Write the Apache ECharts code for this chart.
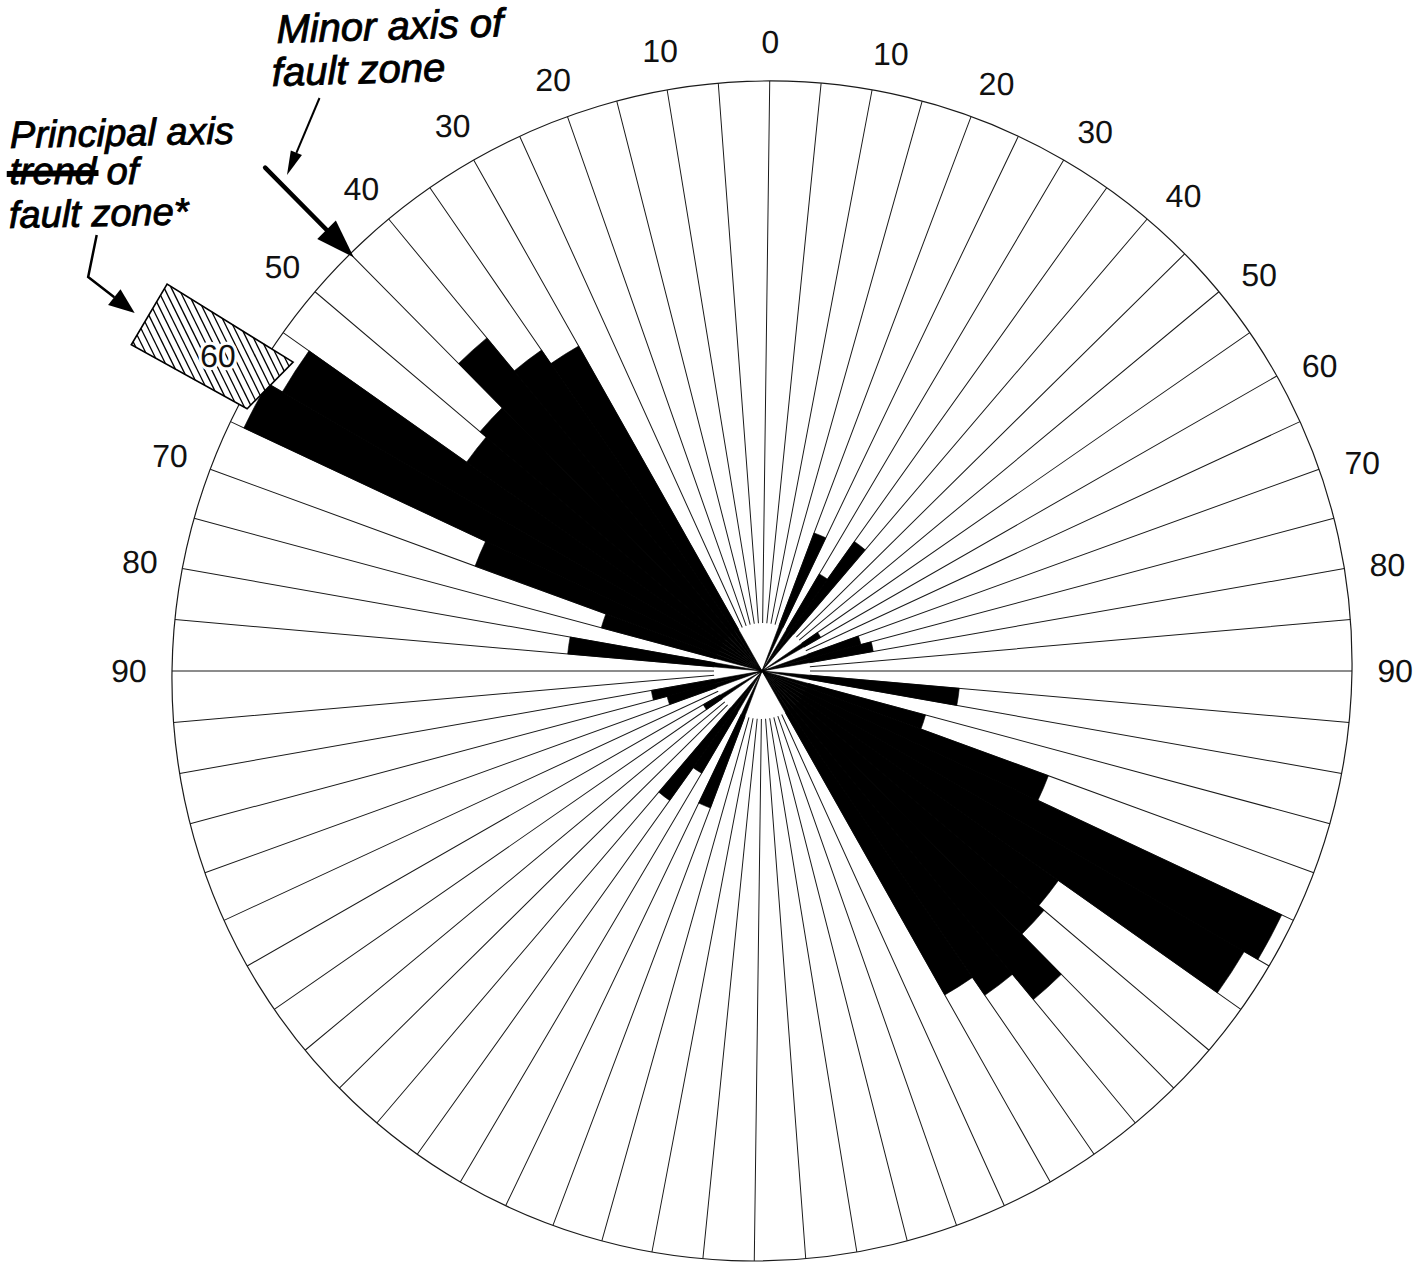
<!DOCTYPE html>
<html>
<head>
<meta charset="utf-8">
<title>Rose diagram of fault strikes</title>
<script src="https://cdn.jsdelivr.net/npm/echarts@6/dist/echarts.min.js"></script>
<style>
  html, body { margin: 0; padding: 0; background: #ffffff; }
  #rose {
    width: 1421px; height: 1264px;
    transform: skewX(-0.75deg);
    transform-origin: 762px 671px;
  }
</style>
</head>
<body>
<div id="rose"></div>
<script>
// Relative strike frequency per 5° sector (outer ring = 100), clockwise from north.
// Sectors 0°–180° (N → E → S)
const freqNorthToSouth = [
  0, 0, 0, 0, 24.9, 0, 19.0, 26.8, 0, 0, 0, 11.4, 0, 0, 17.3, 19.1, 0, 0,
  0, 33.6, 0, 28.8, 51.9, 97.8, 95.1, 61.9, 63.1, 72.7, 67.1, 63.4, 0, 0, 0, 0, 0, 0
];
// Sectors 180°–360° (S → W → N)
const freqSouthToNorth = [
  0, 0, 0, 0, 24.7, 0, 20.0, 26.8, 0, 0, 0, 11.4, 0, 0, 16.6, 19.0, 0, 0,
  0, 33.1, 0, 28.3, 52.0, 97.5, 94.6, 61.7, 63.1, 73.7, 66.4, 63.6, 0, 0, 0, 0, 0, 0
];
const sectorWidth = 5;
const sectorValues = freqNorthToSouth.concat(freqSouthToNorth);
const sectorNames = sectorValues.map((_, i) => (i * sectorWidth) + '–' + ((i + 1) * sectorWidth) + '°');

// Compass tick labels: degrees east and west of north, upper half only
const tickAngles = [0, 10, 20, 30, 40, 50, 60, 70, 80, 90, 270, 280, 290, 300, 310, 320, 330, 340, 350];
const tickTexts  = ['0', '10', '20', '30', '40', '50', '60', '70', '80', '90',
                    '90', '80', '70', '60', '50', '40', '30', '20', '10'];

// Azimuths of the fault-zone axes: principal, minor
const faultZoneAxes = [300, 315];

const CX = 762, CY = 671, R = 590;
const LABEL_RING = 107.3;   // label centres, in radius-axis units
const labelFont = '32px "Liberation Sans", Arial, sans-serif';

const chart = echarts.init(document.getElementById('rose'), null, { renderer: 'svg', width: 1421, height: 1264 });

// Degree labels centred on a ring just outside the rose; the east-side
// labels sit a touch further clockwise, fading out towards 90.
function renderTickLabel(params, api) {
  const a = api.value(1);
  const nudge = (a > 0 && a <= 90) ? Math.min(1, (90 - a) / 30) : 0;
  const p = api.coord([api.value(0), a + nudge]);
  const y = p[1] + 4 * Math.abs(Math.cos(a * Math.PI / 180));
  const txt = tickTexts[params.dataIndex];
  const base = { text: txt, font: labelFont, align: 'center', verticalAlign: 'middle',
                 textAlign: 'center', textVerticalAlign: 'middle' };
  return {
    type: 'group',
    children: [
      { type: 'text', x: p[0], y: y,
        style: Object.assign({}, base, { fill: 'none', stroke: '#ffffff', lineWidth: 6 }) },
      { type: 'text', x: p[0], y: y,
        style: Object.assign({}, base, { fill: '#111111' }) }
    ]
  };
}

// Draws the principal-axis hatched block and the minor-axis arrow outside the ring
function renderAxisMarker(params, api) {
  const az = api.value(1);
  const c = api.coord([0, az]);
  const e = api.coord([100, az]);
  const len = Math.hypot(e[0] - c[0], e[1] - c[1]);
  const u = [(e[0] - c[0]) / len, (e[1] - c[1]) / len];
  const v = [-u[1], u[0]];
  const pt = (s, t) => [c[0] + u[0] * s + v[0] * t, c[1] + u[1] * s + v[1] * t];

  if (params.dataIndex === 0) {
    const quad = [[564, 31], [713, 35], [713, -35], [580, -32]];
    const children = [{
      type: 'polygon',
      shape: { points: quad.map(q => pt(q[0], q[1])) },
      style: { fill: '#ffffff', stroke: '#000000', lineWidth: 1.6 }
    }];
    // diagonal hatching clipped to the block
    const n = [-0.546, 0.835];
    const proj = quad.map(q => q[0] * n[0] + q[1] * n[1]);
    const kMin = Math.min.apply(null, proj), kMax = Math.max.apply(null, proj);
    for (let k = kMin + 3; k < kMax; k += 6.4) {
      const hits = [];
      for (let i = 0; i < quad.length; i++) {
        const a = quad[i], b = quad[(i + 1) % quad.length];
        const fa = a[0] * n[0] + a[1] * n[1] - k;
        const fb = b[0] * n[0] + b[1] * n[1] - k;
        if ((fa <= 0 && fb > 0) || (fa > 0 && fb <= 0)) {
          const t = fa / (fa - fb);
          hits.push([a[0] + (b[0] - a[0]) * t, a[1] + (b[1] - a[1]) * t]);
        }
      }
      if (hits.length >= 2) {
        const p1 = pt(hits[0][0], hits[0][1]), p2 = pt(hits[1][0], hits[1][1]);
        children.push({
          type: 'line',
          shape: { x1: p1[0], y1: p1[1], x2: p2[0], y2: p2[1] },
          style: { stroke: '#000000', lineWidth: 1.3 }
        });
      }
    }
    return { type: 'group', children: children };
  }

  const s0 = pt(712, 0), s1 = pt(618, 0);
  return {
    type: 'group',
    children: [
      { type: 'line', shape: { x1: s0[0], y1: s0[1], x2: s1[0], y2: s1[1] },
        style: { stroke: '#000000', lineWidth: 4.5, lineCap: 'round' } },
      { type: 'polygon', shape: { points: [pt(585, 0), pt(624, 13), pt(624, -13)] },
        style: { fill: '#000000' } }
    ]
  };
}

const handFont = 'italic 40px "Liberation Sans", Arial, sans-serif';
const handFontSmall = 'italic 38px "Liberation Sans", Arial, sans-serif';
function note(text, x, y, font, rot) {
  return {
    type: 'text', x: x, y: y, rotation: rot || 0, z: 20, silent: true,
    style: { text: text, fill: '#000000', stroke: '#000000', lineWidth: 0.9, font: font,
             align: 'left', verticalAlign: 'middle', textAlign: 'left', textVerticalAlign: 'middle' }
  };
}

const option = {
  animation: false,
  backgroundColor: '#ffffff',
  polar: [
    { center: [CX, CY], radius: R },
    { center: [CX, CY], radius: [48, R] },
    { center: [CX, CY], radius: R }
  ],
  angleAxis: [
    {
      polarIndex: 0, type: 'category', data: sectorNames, startAngle: 90, clockwise: true,
      boundaryGap: true,
      axisLine: { show: true, lineStyle: { color: '#1a1a1a', width: 1.2 } },
      axisTick: { show: false }, axisLabel: { show: false },
      splitLine: { show: false }, splitArea: { show: false }
    },
    {
      polarIndex: 1, type: 'value', min: 0, max: 360, interval: sectorWidth,
      startAngle: 90, clockwise: true, z: 0,
      axisLine: { show: false }, axisTick: { show: false }, axisLabel: { show: false },
      splitLine: { show: true, lineStyle: { color: '#1a1a1a', width: 1 } }
    },
    {
      polarIndex: 2, type: 'value', min: 0, max: 360, startAngle: 90, clockwise: true, show: false
    }
  ],
  radiusAxis: [
    { polarIndex: 0, type: 'value', min: 0, max: 100, show: false },
    { polarIndex: 1, type: 'value', min: 0, max: 100, show: false },
    { polarIndex: 2, type: 'value', min: 0, max: 100, show: false }
  ],
  series: [
    {
      name: 'Strike frequency', type: 'bar', coordinateSystem: 'polar', polarIndex: 0,
      data: sectorValues, barCategoryGap: '0%', silent: true, z: 2,
      itemStyle: { color: '#000000', borderColor: '#000000', borderWidth: 0.6 }
    },
    {
      name: 'Fault zone axes', type: 'custom', coordinateSystem: 'polar', polarIndex: 2,
      z: 5, silent: true,
      data: faultZoneAxes.map(a => [100, a]),
      encode: { radius: 0, angle: 1 },
      renderItem: renderAxisMarker
    },
    {
      name: 'Compass degrees', type: 'custom', coordinateSystem: 'polar', polarIndex: 2,
      z: 10, silent: true,
      data: tickAngles.map(a => [LABEL_RING, a]),
      encode: { radius: 0, angle: 1 },
      renderItem: renderTickLabel
    }
  ],
  graphic: [
    note('Minor axis of', 268, 29, handFont, 0.03),
    note('fault zone', 264, 72, handFont, 0.03),
    note('Principal axis', 3, 135, handFontSmall, 0.02),
    note('trend of', 3, 171, handFontSmall, 0),
    note('fault zone*', 3, 215, handFontSmall, 0.02),
    { type: 'line', z: 21, silent: true, shape: { x1: 0, y1: 174, x2: 92, y2: 173 },
      style: { stroke: '#000000', lineWidth: 6 } },
    // callout to the minor-axis marker
    { type: 'line', z: 20, silent: true, shape: { x1: 312, y1: 98, x2: 289.6, y2: 152.8 },
      style: { stroke: '#000000', lineWidth: 2 } },
    { type: 'polygon', z: 20, silent: true,
      shape: { points: [[280.5, 175], [295.2, 155.1], [284.0, 150.5]] },
      style: { fill: '#000000' } },
    // callout to the principal-axis block
    { type: 'polyline', z: 20, silent: true,
      shape: { points: [[91, 235], [83, 277], [109.4, 297.2]] },
      style: { stroke: '#000000', lineWidth: 2.5, fill: null } },
    { type: 'polygon', z: 20, silent: true,
      shape: { points: [[130, 313], [103.3, 305.1], [115.5, 289.3]] },
      style: { fill: '#000000' } }
  ]
};

chart.setOption(option);
</script>
</body>
</html>
